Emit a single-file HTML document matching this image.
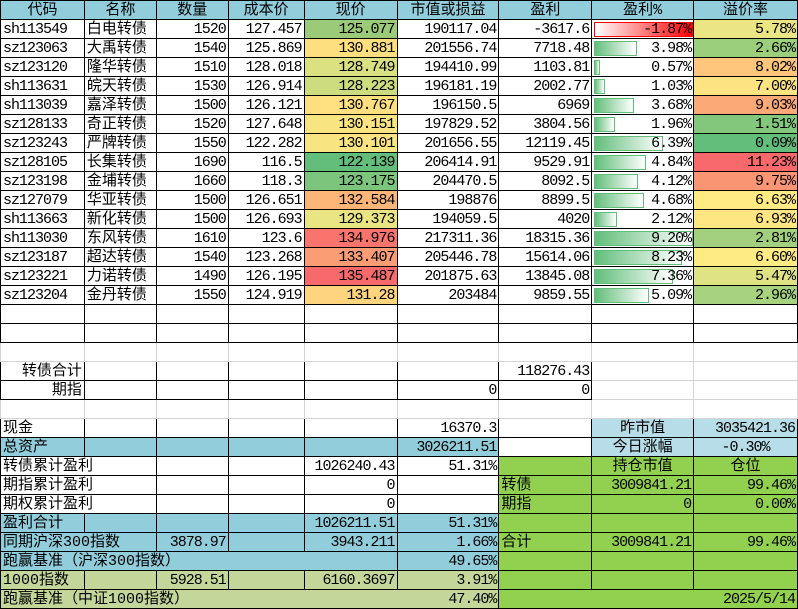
<!DOCTYPE html>
<html><head><meta charset="utf-8">
<style>
body{margin:0;background:#fff;width:798px;height:605px;overflow:hidden}
table{border-collapse:collapse;table-layout:fixed;font:15px "Liberation Mono","Noto Sans CJK SC",sans-serif;color:#000}
td{border:1px solid #000;padding:2px 2px 0 2px;height:16px;white-space:nowrap;overflow:hidden;text-align:right;line-height:16px;position:relative}
td.n{letter-spacing:-1px}
.l{text-align:left}.c{text-align:center}
.g{border-color:#d4d4d4}
.b{background:#92cddc}.lb{background:#b7dde8}.gr{background:#92d050}.o{background:#c4d79b}
.h td{height:15px;background:#92cddc;text-align:center}
.bar{position:absolute;left:2px;top:2px;height:13px;border:1px solid #63be7b;background:linear-gradient(to right,#63be7b,#fff);z-index:0}
.barr{position:absolute;left:2px;top:2px;height:13px;border:1px solid #f00;background:linear-gradient(to right,#fff,#f00);z-index:0}
.t{position:relative;z-index:1}
tr.s td{height:15px}
</style></head><body>
<table>
<colgroup><col style="width:84px"><col style="width:72px"><col style="width:72px"><col style="width:76px"><col style="width:93px"><col style="width:102px"><col style="width:93px"><col style="width:102px"><col style="width:104px"></colgroup>
<tr class="h"><td>代码</td><td>名称</td><td>数量</td><td>成本价</td><td>现价</td><td>市值或损益</td><td>盈利</td><td>盈利%</td><td>溢价率</td></tr>
<tr><td class="l n">sh113549</td><td class="l">白电转债</td><td class="n">1520</td><td class="n">127.457</td><td class="n" style="background:#9bcb78">125.077</td><td class="n">190117.04</td><td class="n">-3617.6</td><td class="n"><div class="barr" style="width:97px"></div><span class="t">-1.87%</span></td><td class="n" style="background:#ebe683">5.78%</td></tr>
<tr><td class="l n">sz123063</td><td class="l">大禹转债</td><td class="n">1540</td><td class="n">125.869</td><td class="n" style="background:#fedf80">130.881</td><td class="n">201556.74</td><td class="n">7718.48</td><td class="n"><div class="bar" style="width:41px"></div><span class="t">3.98%</span></td><td class="n" style="background:#9ccf7c">2.66%</td></tr>
<tr><td class="l n">sz123120</td><td class="l">隆华转债</td><td class="n">1510</td><td class="n">128.018</td><td class="n" style="background:#dbe081">128.749</td><td class="n">194410.99</td><td class="n">1103.81</td><td class="n"><div class="bar" style="width:4px"></div><span class="t">0.57%</span></td><td class="n" style="background:#fdc67c">8.02%</td></tr>
<tr><td class="l n">sh113631</td><td class="l">皖天转债</td><td class="n">1530</td><td class="n">126.914</td><td class="n" style="background:#cddc7f">128.223</td><td class="n">196181.19</td><td class="n">2002.77</td><td class="n"><div class="bar" style="width:9px"></div><span class="t">1.03%</span></td><td class="n" style="background:#fee382">7.00%</td></tr>
<tr><td class="l n">sh113039</td><td class="l">嘉泽转债</td><td class="n">1500</td><td class="n">126.121</td><td class="n" style="background:#fee081">130.767</td><td class="n">196150.5</td><td class="n">6969</td><td class="n"><div class="bar" style="width:38px"></div><span class="t">3.68%</span></td><td class="n" style="background:#fba977">9.03%</td></tr>
<tr><td class="l n">sz128133</td><td class="l">奇正转债</td><td class="n">1520</td><td class="n">127.648</td><td class="n" style="background:#f9e482">130.151</td><td class="n">197829.52</td><td class="n">3804.56</td><td class="n"><div class="bar" style="width:19px"></div><span class="t">1.96%</span></td><td class="n" style="background:#82c77c">1.51%</td></tr>
<tr><td class="l n">sz123243</td><td class="l">严牌转债</td><td class="n">1550</td><td class="n">122.282</td><td class="n" style="background:#f9e482">130.101</td><td class="n">201656.55</td><td class="n">12119.45</td><td class="n"><div class="bar" style="width:67px"></div><span class="t">6.39%</span></td><td class="n" style="background:#63be7b">0.09%</td></tr>
<tr><td class="l n">sz128105</td><td class="l">长集转债</td><td class="n">1690</td><td class="n">116.5</td><td class="n" style="background:#63be7b">122.139</td><td class="n">206414.91</td><td class="n">9529.91</td><td class="n"><div class="bar" style="width:50px"></div><span class="t">4.84%</span></td><td class="n" style="background:#f8696b">11.23%</td></tr>
<tr><td class="l n">sz123198</td><td class="l">金埔转债</td><td class="n">1660</td><td class="n">118.3</td><td class="n" style="background:#7bc57d">123.175</td><td class="n">204470.5</td><td class="n">8092.5</td><td class="n"><div class="bar" style="width:42px"></div><span class="t">4.12%</span></td><td class="n" style="background:#fa9573">9.75%</td></tr>
<tr><td class="l n">sz127079</td><td class="l">华亚转债</td><td class="n">1500</td><td class="n">126.651</td><td class="n" style="background:#fbb577">132.584</td><td class="n">198876</td><td class="n">8899.5</td><td class="n"><div class="bar" style="width:48px"></div><span class="t">4.68%</span></td><td class="n" style="background:#ffeb84">6.63%</td></tr>
<tr><td class="l n">sh113663</td><td class="l">新化转债</td><td class="n">1500</td><td class="n">126.693</td><td class="n" style="background:#e9e582">129.373</td><td class="n">194059.5</td><td class="n">4020</td><td class="n"><div class="bar" style="width:21px"></div><span class="t">2.12%</span></td><td class="n" style="background:#fee683">6.93%</td></tr>
<tr><td class="l n">sh113030</td><td class="l">东风转债</td><td class="n">1610</td><td class="n">123.6</td><td class="n" style="background:#f8746d">134.976</td><td class="n">217311.36</td><td class="n">18315.36</td><td class="n"><div class="bar" style="width:97px"></div><span class="t">9.20%</span></td><td class="n" style="background:#a2d07f">2.81%</td></tr>
<tr><td class="l n">sz123187</td><td class="l">超达转债</td><td class="n">1540</td><td class="n">123.268</td><td class="n" style="background:#fa9d74">133.407</td><td class="n">205446.78</td><td class="n">15614.06</td><td class="n"><div class="bar" style="width:86px"></div><span class="t">8.23%</span></td><td class="n" style="background:#ffeb84">6.60%</td></tr>
<tr><td class="l n">sz123221</td><td class="l">力诺转债</td><td class="n">1490</td><td class="n">126.195</td><td class="n" style="background:#f8696b">135.487</td><td class="n">201875.63</td><td class="n">13845.08</td><td class="n"><div class="bar" style="width:77px"></div><span class="t">7.36%</span></td><td class="n" style="background:#e0e383">5.47%</td></tr>
<tr><td class="l n">sz123204</td><td class="l">金丹转债</td><td class="n">1550</td><td class="n">124.919</td><td class="n" style="background:#fed47f">131.28</td><td class="n">203484</td><td class="n">9859.55</td><td class="n"><div class="bar" style="width:53px"></div><span class="t">5.09%</span></td><td class="n" style="background:#a7d27f">2.96%</td></tr>
<tr><td></td><td></td><td></td><td></td><td></td><td></td><td></td><td></td><td></td></tr>
<tr><td></td><td></td><td></td><td></td><td></td><td></td><td></td><td></td><td></td></tr>
<tr><td class="g"></td><td class="g"></td><td class="g"></td><td class="g"></td><td class="g"></td><td class="g"></td><td class="g"></td><td class="g"></td><td class="g"></td></tr>
<tr><td>转债合计</td><td></td><td></td><td></td><td></td><td></td><td class="n">118276.43</td><td class="g"></td><td class="g"></td></tr>
<tr><td>期指</td><td></td><td></td><td></td><td></td><td class="n">0</td><td class="n">0</td><td class="g"></td><td class="g"></td></tr>
<tr><td class="g"></td><td class="g"></td><td class="g"></td><td class="g"></td><td class="g"></td><td class="g"></td><td class="g"></td><td class="g"></td><td class="g"></td></tr>
<tr><td class="l">现金</td><td></td><td></td><td></td><td></td><td class="n">16370.3</td><td></td><td class="c lb">昨市值</td><td class="n lb">3035421.36</td></tr>
<tr class="b"><td class="l">总资产</td><td></td><td></td><td></td><td></td><td class="n">3026211.51</td><td style="background:#fff"></td><td class="c lb">今日涨幅</td><td class="c n lb">-0.30%</td></tr>
<tr><td class="l" colspan="2">转债累计盈利</td><td></td><td></td><td class="n">1026240.43</td><td class="n">51.31%</td><td class="gr"></td><td class="c gr">持仓市值</td><td class="c gr">仓位</td></tr>
<tr><td class="l" colspan="2">期指累计盈利</td><td></td><td></td><td class="n">0</td><td></td><td class="l gr">转债</td><td class="n gr">3009841.21</td><td class="n gr">99.46%</td></tr>
<tr><td class="l" colspan="2">期权累计盈利</td><td></td><td></td><td class="n">0</td><td></td><td class="l gr">期指</td><td class="n gr">0</td><td class="n gr">0.00%</td></tr>
<tr class="b"><td class="l">盈利合计</td><td></td><td></td><td></td><td class="n">1026211.51</td><td class="n">51.31%</td><td class="gr"></td><td class="gr"></td><td class="gr"></td></tr>
<tr class="b"><td class="l" colspan="2">同期沪深300指数</td><td class="n">3878.97</td><td></td><td class="n">3943.211</td><td class="n">1.66%</td><td class="l gr">合计</td><td class="n gr">3009841.21</td><td class="n gr">99.46%</td></tr>
<tr class="b"><td class="l" colspan="5">跑赢基准（沪深300指数）</td><td class="n">49.65%</td><td class="gr"></td><td class="gr"></td><td class="gr"></td></tr>
<tr class="o s"><td class="l">1000指数</td><td></td><td class="n">5928.51</td><td></td><td class="n">6160.3697</td><td class="n">3.91%</td><td class="gr"></td><td class="gr"></td><td class="gr"></td></tr>
<tr class="o s"><td class="l" colspan="5" style="border-right:none">跑赢基准（中证1000指数）</td><td class="n" style="border-left:none">47.40%</td><td class="n gr" colspan="3">2025/5/14</td></tr>
</table>
</body></html>
